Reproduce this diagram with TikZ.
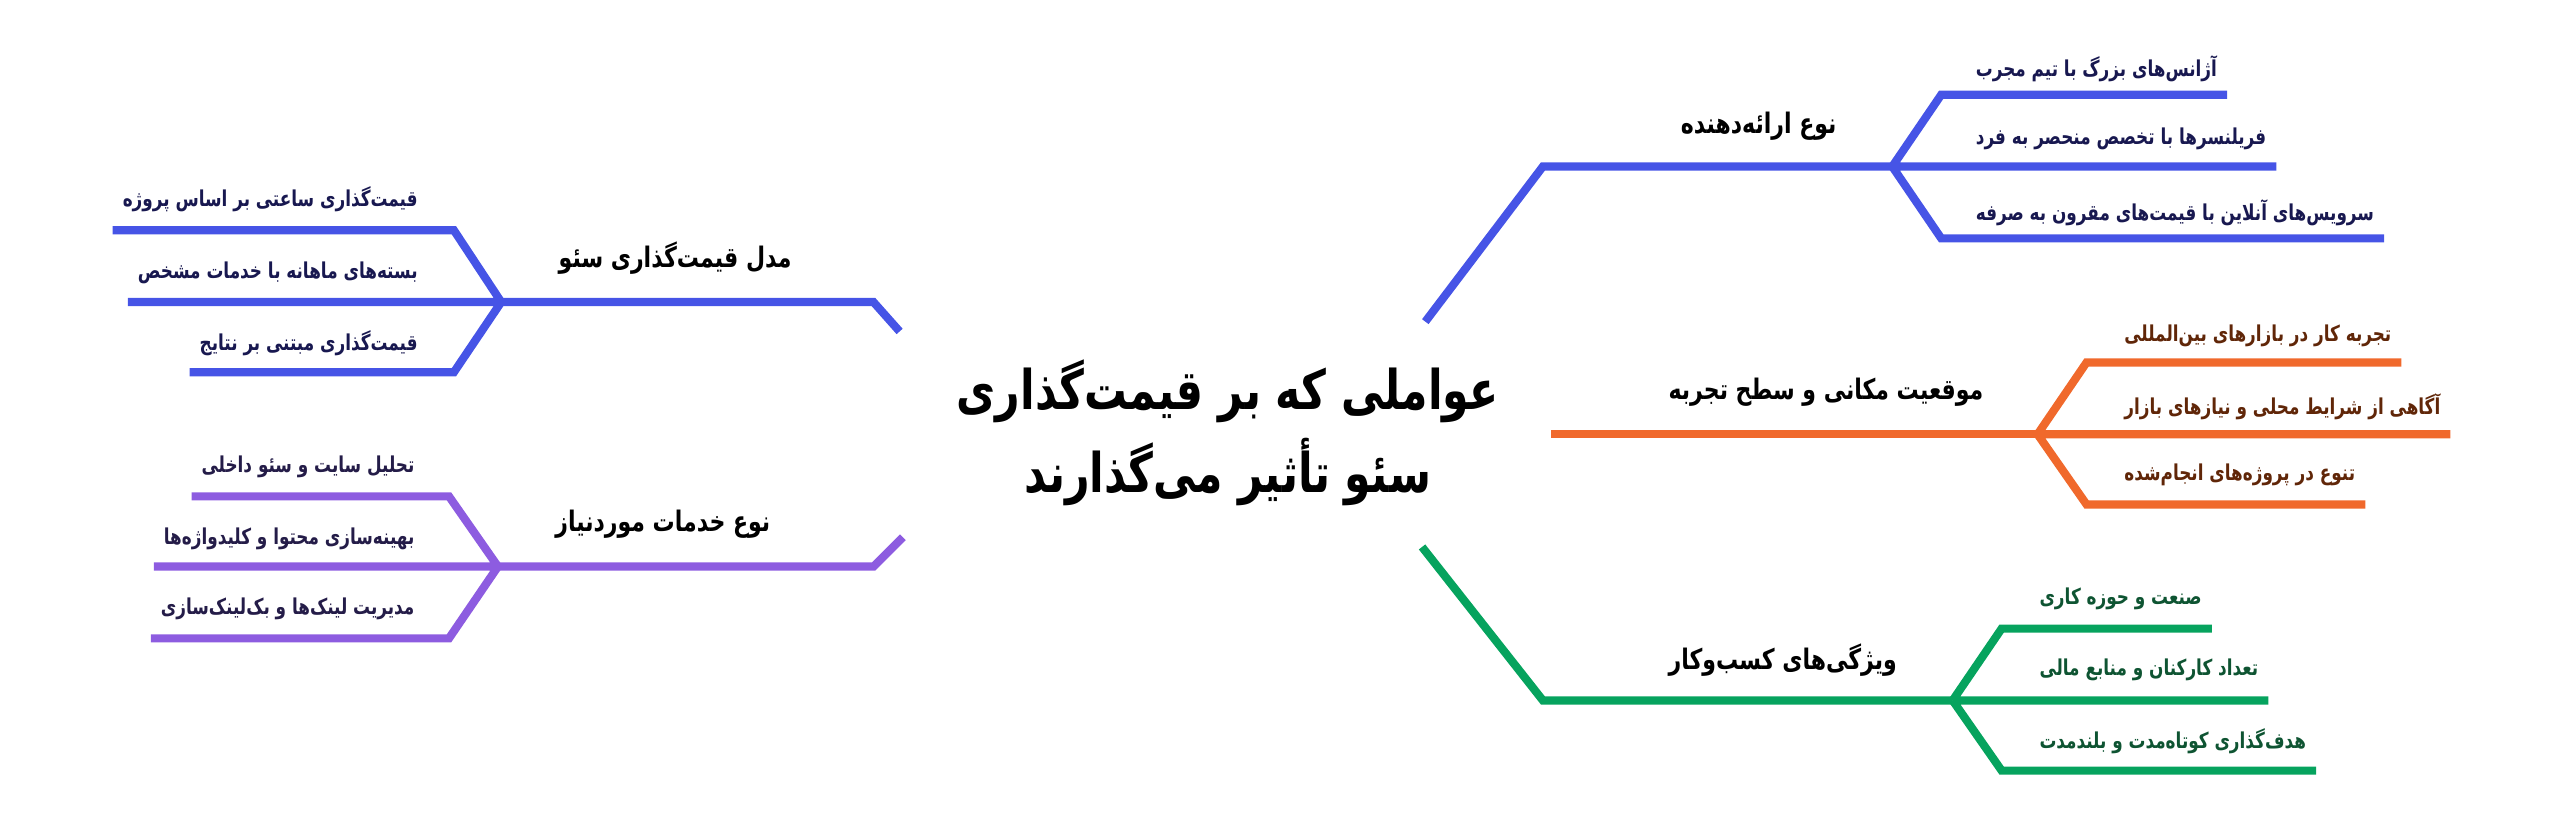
\documentclass[tikz,border=0pt]{standalone}
\usepackage{fontspec}
\newfontfamily\titlefont[Script=Arabic, FakeStretch=0.78]{DejaVu Sans}
\newfontfamily\branchfont[Script=Arabic, FakeStretch=0.78]{DejaVu Sans}
\newfontfamily\leaffont[Script=Arabic, FakeStretch=0.77]{DejaVu Sans}
\TeXXeTstate=1
\usetikzlibrary{positioning}
\newcommand{\fatext}[1]{\beginR #1\endR}
\definecolor{provblue}{RGB}{70,84,230}
\definecolor{exporange}{RGB}{240,105,44}
\definecolor{bizgreen}{RGB}{6,163,94}
\definecolor{servpurple}{RGB}{141,92,224}
\definecolor{navytext}{RGB}{24,24,80}
\definecolor{browntext}{RGB}{96,38,8}
\definecolor{greentext}{RGB}{14,84,50}
\definecolor{indigotext}{RGB}{36,28,72}
\tikzset{
	title/.style={font=\titlefont\bfseries\fontsize{33.5}{51}\selectfont, align=center, inner sep=0pt},
	branch/.style={font=\branchfont\bfseries\fontsize{17.3}{19}\selectfont, inner sep=0pt},
	leaf/.style={font=\leaffont\bfseries\fontsize{13.4}{15}\selectfont, inner xsep=6pt, inner ysep=0pt},
	wire/.style={line width=5pt},
}

\begin{document}
\begin{tikzpicture}[x=1pt, y=-1pt]
		\useasboundingbox (0,0) rectangle (1568,501);
		\node[title] (title) at (752,265) {\fatext{عواملی که بر قیمت‌گذاری}\\\fatext{سئو تأثیر می‌گذارند}};
		% provider type
		\coordinate (p0) at (873,197);
		\coordinate (p1) at (945,102);
		\coordinate (pf) at (1159,102);
		\coordinate (pa) at (1189,58);
		\coordinate (pb) at (1189,102);
		\coordinate (pc) at (1189,146);
		\node[branch, left=34pt of pf, yshift=25pt] (prov) {\fatext{نوع ارائه‌دهنده}};
		\node[leaf, navytext, right=15pt of pa, yshift=16pt] (prova) {\fatext{آژانس‌های بزرگ با تیم مجرب}};
		\node[leaf, navytext, right=15pt of pb, yshift=17pt] (provb) {\fatext{فریلنسرها با تخصص منحصر به فرد}};
		\node[leaf, navytext, right=15pt of pc, yshift=16pt] (provc) {\fatext{سرویس‌های آنلاین با قیمت‌های مقرون به صرفه}};
		\draw[wire, provblue] (p0) -- (p1) -- (pf);
		\draw[wire, provblue] (pf) -- (pa) -- (pa -| prova.east)
			(pf) -- (pb -| provb.east)
			(pf) -- (pc) -- (pc -| provc.east);
		% location and experience
		\coordinate (e0) at (950,266);
		\coordinate (ef) at (1248,266);
		\coordinate (ea) at (1278,222);
		\coordinate (eb) at (1278,266);
		\coordinate (ec) at (1278,309);
		\node[branch, left=33pt of ef, yshift=26pt] (exp) {\fatext{موقعیت مکانی و سطح تجربه}};
		\node[leaf, browntext, right=17pt of ea, yshift=16pt] (expa) {\fatext{تجربه کار در بازارهای بین‌المللی}};
		\node[leaf, browntext, right=17pt of eb, yshift=17pt] (expb) {\fatext{آگاهی از شرایط محلی و نیازهای بازار}};
		\node[leaf, browntext, right=17pt of ec, yshift=18pt] (expc) {\fatext{تنوع در پروژه‌های انجام‌شده}};
		\draw[wire, exporange] (e0) -- (ef);
		\draw[wire, exporange] (ef) -- (ea) -- (ea -| expa.east)
			(ef) -- (eb -| expb.east)
			(ef) -- (ec) -- (ec -| expc.east);
		% business features
		\coordinate (g0) at (871,335);
		\coordinate (g1) at (945,429);
		\coordinate (gf) at (1196,429);
		\coordinate (ga) at (1226,385);
		\coordinate (gb) at (1226,429);
		\coordinate (gc) at (1226,472);
		\node[branch, left=34pt of gf, yshift=25pt] (biz) {\fatext{ویژگی‌های کسب‌وکار}};
		\node[leaf, greentext, right=17pt of ga, yshift=18pt] (biza) {\fatext{صنعت و حوزه کاری}};
		\node[leaf, greentext, right=17pt of gb, yshift=19pt] (bizb) {\fatext{تعداد کارکنان و منابع مالی}};
		\node[leaf, greentext, right=17pt of gc, yshift=18pt] (bizc) {\fatext{هدف‌گذاری کوتاه‌مدت و بلندمدت}};
		\draw[wire, bizgreen] (g0) -- (g1) -- (gf);
		\draw[wire, bizgreen] (gf) -- (ga) -- (ga -| biza.east)
			(gf) -- (gb -| bizb.east)
			(gf) -- (gc) -- (gc -| bizc.east);
		% pricing model
		\coordinate (m0) at (551,203);
		\coordinate (m1) at (535,185);
		\coordinate (mf) at (307,185);
		\coordinate (ma) at (278,141);
		\coordinate (mb) at (278,185);
		\coordinate (mc) at (278,228);
		\node[branch, right=35pt of mf, yshift=27pt] (model) {\fatext{مدل قیمت‌گذاری سئو}};
		\node[leaf, navytext, left=16pt of ma, yshift=19pt] (modela) {\fatext{قیمت‌گذاری ساعتی بر اساس پروژه}};
		\node[leaf, navytext, left=16pt of mb, yshift=18pt] (modelb) {\fatext{بسته‌های ماهانه با خدمات مشخص}};
		\node[leaf, navytext, left=16pt of mc, yshift=18pt] (modelc) {\fatext{قیمت‌گذاری مبتنی بر نتایج}};
		\draw[wire, provblue] (m0) -- (m1) -- (mf);
		\draw[wire, provblue] (mf) -- (ma) -- (ma -| modela.west)
			(mf) -- (mb -| modelb.west)
			(mf) -- (mc) -- (mc -| modelc.west);
		% required services
		\coordinate (s0) at (553,329);
		\coordinate (s1) at (535,347);
		\coordinate (sf) at (305,347);
		\coordinate (sa) at (275,304);
		\coordinate (sb) at (275,347);
		\coordinate (sc) at (275,391);
		\node[branch, right=35pt of sf, yshift=26pt] (serv) {\fatext{نوع خدمات موردنیاز}};
		\node[leaf, indigotext, left=15pt of sa, yshift=18pt] (serva) {\fatext{تحلیل سایت و سئو داخلی}};
		\node[leaf, indigotext, left=15pt of sb, yshift=17pt] (servb) {\fatext{بهینه‌سازی محتوا و کلیدواژه‌ها}};
		\node[leaf, indigotext, left=15pt of sc, yshift=18pt] (servc) {\fatext{مدیریت لینک‌ها و بک‌لینک‌سازی}};
		\draw[wire, servpurple] (s0) -- (s1) -- (sf);
		\draw[wire, servpurple] (sf) -- (sa) -- (sa -| serva.west)
			(sf) -- (sb -| servb.west)
			(sf) -- (sc) -- (sc -| servc.west);
	\end{tikzpicture}
\end{document}
